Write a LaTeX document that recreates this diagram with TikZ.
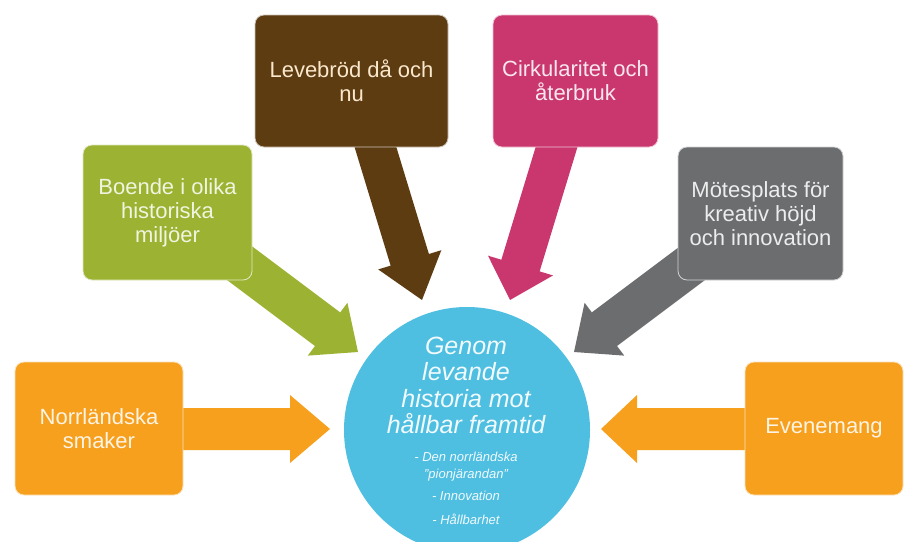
\documentclass[tikz,border=0pt]{standalone}
\usepackage{fontspec}
\setmainfont{Liberation Sans}
\usetikzlibrary{calc}
\definecolor{corange}{RGB}{246,160,30}
\definecolor{cgreen}{RGB}{156,178,50}
\definecolor{cbrown}{RGB}{94,60,18}
\definecolor{cpink}{RGB}{201,55,110}
\definecolor{cgray}{RGB}{108,109,111}
\definecolor{cblue}{RGB}{78,190,225}
% #1 colour, #2 from, #3 to, #4 shaft half width, #5 head half width, #6 head length
\newcommand\blockarrow[6]{%
  \fill[#1] let \p1=(#2), \p2=(#3),
    \n1={atan2(\y2-\y1,\x2-\x1)}, \n2={veclen(\x2-\x1,\y2-\y1)} in
    [shift={(\p1)}, rotate=\n1]
    (0,-#4) -- ({\n2-#6},-#4) -- ({\n2-#6},-#5) -- ({\n2},0)
    -- ({\n2-#6},#5) -- ({\n2-#6},#4) -- (0,#4) -- cycle;}
\begin{document}
\begin{tikzpicture}[x=1pt,y=-1pt,
  box/.style={rounded corners=9pt, align=center, inner sep=0pt,
    font=\fontsize{22}{24}\selectfont, draw=white!70!#1, line width=0.8pt, fill=#1},
  ctext/.style={align=center, inner sep=0pt, text=white!92!cblue}]
\useasboundingbox (0,0) rectangle (904,541);
\clip (0,0) rectangle (904,541);
\fill[white] (0,0) rectangle (904,541);

% arrow end points
\coordinate (s1) at (150,429);  \coordinate (t1) at (330,429);
\coordinate (s2) at (780,429);  \coordinate (t2) at (601,429);
\coordinate (s3) at (366,116);  \coordinate (t3) at (422,300);
\coordinate (s4) at (566,116);  \coordinate (t4) at (510,300);
\coordinate (s5) at (214,244);  \coordinate (t5) at (358,352);
\coordinate (s6) at (718,244);  \coordinate (t6) at (574,352);

\blockarrow{corange}{s1}{t1}{21}{34}{40}
\blockarrow{corange}{s2}{t2}{21}{34}{36}
\blockarrow{cbrown}{s3}{t3}{20}{33}{42}
\blockarrow{cpink}{s4}{t4}{20}{34}{36}
\blockarrow{cgreen}{s5}{t5}{21}{33}{38}
\blockarrow{cgray}{s6}{t6}{21}{33}{38}

% boxes
\node[box=corange, minimum width=168pt, minimum height=133pt, text=white!88!corange]
  (norr) at (99,428.5) {Norrländska\\smaker};
\node[box=corange, minimum width=158pt, minimum height=133pt, text=white!88!corange]
  (even) at (824,428.5) {Evenemang};
\node[box=cgreen, minimum width=169pt, minimum height=135pt, text=white!85!cgreen]
  (boende) at (167.5,212.5) {Boende i olika\\historiska\\miljöer};
\node[box=cbrown, minimum width=193pt, minimum height=132pt, text={rgb,255:red,250;green,232;blue,205}]
  (leve) at (351.5,81) {Levebröd då och\\nu};
\node[box=cpink, minimum width=165pt, minimum height=132pt, text=white!88!cpink]
  (cirk) at (575.5,81) {Cirkularitet och\\återbruk};
\node[box=cgray, minimum width=165pt, minimum height=133pt, text=white!88!cgray]
  (mote) at (760.5,213.5) {Mötesplats för\\kreativ höjd\\och innovation};

% centre circle
\node[circle, fill=cblue, minimum size=246pt, inner sep=0pt] (mid) at (467,430) {};
\node[ctext, font=\itshape\fontsize{25}{26.4}\selectfont] (title) at (466,385.5)
  {Genom\\levande\\historia mot\\hållbar framtid};
\node[ctext, font=\itshape\fontsize{13}{17}\selectfont] (sub1) at (466,467)
  {- Den norrländska\\"pionjärandan"};
\node[ctext, font=\itshape\fontsize{13}{17}\selectfont] (sub2) at (466,496) {- Innovation};
\node[ctext, font=\itshape\fontsize{13}{17}\selectfont] (sub3) at (466,519) {- Hållbarhet};
\end{tikzpicture}
\end{document}
